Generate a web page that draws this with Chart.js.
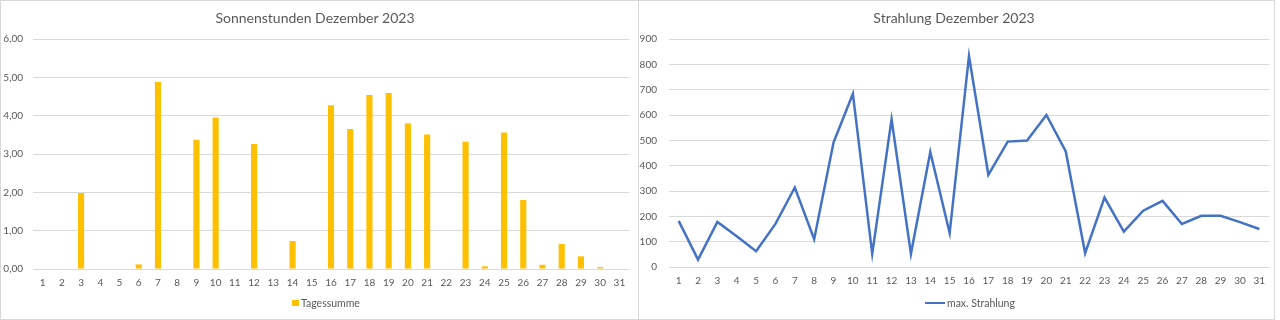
<!DOCTYPE html>
<html lang="de">
<head>
<meta charset="utf-8">
<title>Sonnenstunden / Strahlung Dezember 2023</title>
<script src="https://cdn.jsdelivr.net/npm/chart.js@4/dist/chart.umd.min.js"></script>
<style>
  html, body { margin: 0; padding: 0; background: #fff; }
  body { width: 1280px; height: 320px; position: relative; overflow: hidden;
         font-family: Lato, Carlito, Calibri, sans-serif; }
  .panel { position: absolute; top: 0; height: 320px; box-sizing: border-box;
           border: 1px solid #d9d9d9; background: #fff; }
  #panel-sun { left: 0; width: 639px; }
  #panel-rad { left: 638px; width: 637px; }
  .panel canvas { position: absolute; left: 0; top: 0; }
  .legend { position: absolute; display: flex; align-items: center;
            font-size: 10.5px; color: #595959; white-space: nowrap; }
  .legend .box  { width: 7px; height: 6px; margin-right: 2px; }
  .legend .line { width: 20px; height: 2px; margin-right: 2px; }
</style>
</head>
<body>
<div class="panel" id="panel-sun">
  <canvas id="sun-chart" width="637" height="318"></canvas>
  <div class="legend" id="legend-sun" style="left:291px; top:296px;"></div>
</div>
<div class="panel" id="panel-rad">
  <canvas id="rad-chart" width="635" height="318"></canvas>
  <div class="legend" id="legend-rad" style="left:286px; top:296px;"></div>
</div>

<script>
'use strict';

/* ---- Data ---- */
const DAYS = ['1','2','3','4','5','6','7','8','9','10','11','12','13','14','15','16',
              '17','18','19','20','21','22','23','24','25','26','27','28','29','30','31'];

// Sonnenstunden, Tagessumme [h]
const SUN_HOURS = [0, 0, 1.98, 0, 0, 0.12, 4.88, 0, 3.37, 3.95, 0, 3.26, 0, 0.73, 0, 4.27,
                   3.65, 4.54, 4.59, 3.80, 3.51, 0, 3.32, 0.07, 3.56, 1.80, 0.11, 0.65, 0.33, 0.05, 0];

// max. Strahlung [W/m²]
const MAX_RADIATION = [182, 29, 178, 121, 62, 170, 314, 110, 491, 684, 52, 583, 52, 454, 134, 833,
                       364, 495, 499, 600, 456, 55, 274, 140, 222, 261, 170, 202, 202, 177, 150];

const SUN_TICKS = [0, 1, 2, 3, 4, 5, 6];
const RAD_TICKS = [0, 100, 200, 300, 400, 500, 600, 700, 800, 900];

/* ---- Look ---- */
const FONT     = 'Lato, Carlito, Calibri, sans-serif';
const TEXT_COL = '#595959';
const GRID_COL = '#d9d9d9';
const GOLD     = '#ffc000';
const BLUE     = '#4472c4';

Chart.defaults.font.family = FONT;
Chart.defaults.color = TEXT_COL;
Chart.defaults.animation = false;

/* Shared options; yWidth / padRight pin the plot area to the reference */
function baseOptions(title, yMax, yTicks, fmt, yWidth, yPad, padRight, padBottom) {
  return {
    responsive: false,
    layout: { padding: { left: 0, right: padRight, top: 0, bottom: padBottom } },
    plugins: {
      legend: { display: false },
      tooltip: { enabled: false },
      title: {
        display: true,
        text: title,
        color: TEXT_COL,
        font: { size: 14, weight: 'normal', family: FONT },
        padding: { top: 8.6, bottom: 12.6 },
      },
    },
    scales: {
      x: {
        offset: true,
        grid: { display: false, drawTicks: false },
        border: { display: false },
        ticks: { autoSkip: false, maxRotation: 0, padding: 8, font: { size: 10 }, color: TEXT_COL },
        afterFit: s => { s.height = 24; },
      },
      y: {
        min: 0,
        max: yMax,
        border: { display: false },
        grid: { color: GRID_COL, drawTicks: false, lineWidth: 1 },
        afterBuildTicks: s => { s.ticks = yTicks.map(v => ({ value: v })); },
        ticks: { padding: yPad, font: { size: 10 }, color: TEXT_COL, callback: fmt },
        afterFit: s => { s.width = yWidth; },
      },
    },
  };
}

/* ---- Sonnenstunden (bars) ---- */
new Chart(document.getElementById('sun-chart'), {
  type: 'bar',
  data: {
    labels: DAYS,
    datasets: [{
      label: 'Tagessumme',
      data: SUN_HOURS,
      backgroundColor: GOLD,
      borderWidth: 0,
      categoryPercentage: 1,
      barPercentage: 0.32,
    }],
  },
  options: baseOptions('Sonnenstunden Dezember 2023', 6, SUN_TICKS,
    v => v.toFixed(2).replace('.', ','), 32, 10, 9, 26),
});

/* ---- Strahlung (line) ---- */
new Chart(document.getElementById('rad-chart'), {
  type: 'line',
  data: {
    labels: DAYS,
    datasets: [{
      label: 'max. Strahlung',
      data: MAX_RADIATION,
      borderColor: BLUE,
      backgroundColor: BLUE,
      borderWidth: 2.5,
      pointRadius: 0,
      tension: 0,
      fill: false,
    }],
  },
  options: baseOptions('Strahlung Dezember 2023', 900, RAD_TICKS,
    v => String(v), 30, 12, 5, 28),
});

/* ---- Legends (Excel-style, below the axis) ---- */
function renderLegend(id, text, color, kind) {
  const el = document.getElementById(id);
  el.innerHTML = `<span class="${kind}" style="background:${color}"></span><span>${text}</span>`;
}
renderLegend('legend-sun', 'Tagessumme', GOLD, 'box');
renderLegend('legend-rad', 'max. Strahlung', BLUE, 'line');
</script>
</body>
</html>
